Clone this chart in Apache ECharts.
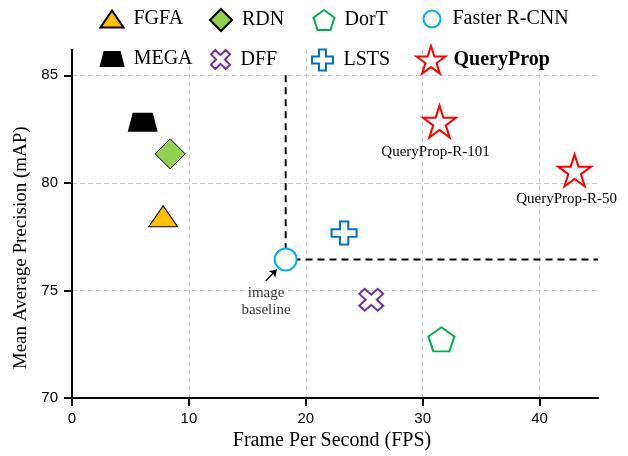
<!DOCTYPE html>
<html>
<head>
<meta charset="utf-8">
<script src="https://cdn.jsdelivr.net/npm/echarts@6/dist/echarts.min.js"></script>
<style>html,body{margin:0;padding:0;background:#fff}#c{width:628px;height:456px}</style>
</head>
<body>
<div id="c"></div>
<script>
// ---- data ----
const fgfa = [[7.8, 78.45]];
const rdn = [[8.4, 81.35]];
const dort = [[31.6, 72.73]];
const fasterRcnn = [[18.28, 76.44]];
const mega = [[6.05, 82.82]];
const dff = [[25.6, 74.57]];
const lsts = [[23.28, 77.67]];
const queryProp = [[31.44, 82.85, 'QueryProp-R-101'], [43.0, 80.58, 'QueryProp-R-50']];
const xTicks = [0, 10, 20, 30, 40];
const yTicks = [70, 75, 80, 85];
const xGrid = [10, 20, 30, 40];
const yGrid = [75, 80, 85];
const xRange = [0, 45];
const yRange = [70, 86.2];
const baselineTop = 85;
const annotationText = ['image', 'baseline'];
const annotationPos = [16.6, 74.5];
const arrowTail = [16.57, 75.44];
const arrowHead = [17.52, 75.98];

// ---- styles ----
const SERIF = '"Liberation Serif", "Times New Roman", serif';
const SANS = '"Liberation Sans", Arial, sans-serif';
const P = {
  trapezoid: 'path://M5,0 L25,0 L30,19 L0,19 Z',
  pentagon: 'path://M50,0 L97.55,34.55 L79.39,90.45 L20.61,90.45 L2.45,34.55 Z',
  plus: 'path://M1,0 L2,0 L2,1 L3,1 L3,2 L2,2 L2,3 L1,3 L1,2 L0,2 L0,1 L1,1 Z',
  cross: 'path://M0,2.3 L2.3,0 L5,2.7 L7.7,0 L10,2.3 L7.3,5 L10,7.7 L7.7,10 L5,7.3 L2.3,10 L0,7.7 L2.7,5 Z',
  star: 'path://M50,0 L61.23,34.55 L97.55,34.55 L68.17,55.9 L79.39,90.45 L50,69.1 L20.61,90.45 L31.83,55.9 L2.45,34.55 L38.77,34.55 Z'
};

function scatter(name, data, symbol, size, style, extra) {
  return Object.assign({
    name: name, type: 'scatter', data: data, symbol: symbol, symbolSize: size,
    itemStyle: Object.assign({opacity: 1}, style), z: 5, emphasis: {disabled: true}, silent: true
  }, extra || {});
}

const series = [
  {
    name: 'guide', type: 'line', symbol: 'none', z: 2, silent: true,
    data: [[fasterRcnn[0][0], baselineTop], fasterRcnn[0], [xRange[1], fasterRcnn[0][1]]],
    lineStyle: {color: '#000', width: 2, type: [7, 5]},
    markLine: {
      silent: true, symbol: ['none', 'arrow'], symbolSize: 7, animation: false,
      lineStyle: {color: '#000', width: 1.3, type: 'solid'}, label: {show: false},
      data: [[{coord: arrowTail}, {coord: arrowHead}]]
    }
  },
  {
    name: 'note', type: 'scatter', symbolSize: 0, silent: true, z: 6,
    data: [annotationPos],
    label: {show: true, position: 'inside', formatter: annotationText.join('\n'),
      fontFamily: SERIF, fontSize: 15, lineHeight: 17, color: '#000'}
  },
  scatter('FGFA', fgfa, 'triangle', [29, 21], {color: '#FFC000', borderColor: '#000', borderWidth: 1}),
  scatter('RDN', rdn, 'diamond', [30, 30], {color: '#92D050', borderColor: '#000', borderWidth: 1}),
  scatter('DorT', dort, P.pentagon, [26, 24], {color: '#fff', borderColor: '#00B050', borderWidth: 2}),
  scatter('Faster R-CNN', fasterRcnn, 'circle', 22, {color: '#fff', borderColor: '#00B0F0', borderWidth: 2}),
  scatter('MEGA', mega, P.trapezoid, [30, 19], {color: '#000'}),
  scatter('DFF', dff, P.cross, [24, 22], {color: '#fff', borderColor: '#7030A0', borderWidth: 2}),
  scatter('LSTS', lsts, P.plus, [25, 23], {color: '#fff', borderColor: '#0070C0', borderWidth: 2}),
  scatter('QueryProp', queryProp.map(function (d, i) {
    return {value: [d[0], d[1]], name: d[2],
      label: {offset: i === 0 ? [-4, 4] : [-8, 2]}};
  }), P.star, [33, 32], {color: '#fff', borderColor: '#FF0000', borderWidth: 2}, {
    label: {show: true, position: 'bottom', distance: 2, formatter: '{b}',
      fontFamily: SERIF, fontSize: 15, color: '#000'}
  })
];

// legend layout: [name, iconCenterX, iconCenterY, iconW, iconH, textGap, bold]
const legendLayout = [
  ['FGFA', 111, 19, 23, 17, 5],
  ['RDN', 220, 19, 22, 22, 5],
  ['DorT', 323, 19, 21, 20, 5],
  ['Faster R-CNN', 431, 19, 17, 17, 7],
  ['MEGA', 113, 59, 27, 16, 3],
  ['DFF', 220, 59, 20, 19, 5],
  ['LSTS', 322, 59, 22, 21, 5],
  ['QueryProp', 430, 59, 29, 28, 3, true]
];
const LFONT = 20;
const legends = legendLayout.map(function (l) {
  const h = Math.max(l[4], LFONT);
  return {
    left: l[1] - l[3] / 2, top: l[2] - h / 2, padding: 0,
    itemWidth: l[3], itemHeight: l[4], selectedMode: false, data: [l[0]],
    itemStyle: {opacity: 1},
    textStyle: {fontFamily: SERIF, fontSize: LFONT, color: '#000',
      fontWeight: l[6] ? 'bold' : 'normal', padding: [0, 0, 0, l[5]]}
  };
});

const gridLine = {show: true, lineStyle: {color: '#cfcfcf', width: 1, type: [5, 3]}};
const option = {
  animation: false,
  backgroundColor: '#fff',
  legend: legends,
  grid: {left: 72, right: 30, top: 49.5, bottom: 55.5, containLabel: false},
  xAxis: {
    type: 'value', min: xRange[0], max: xRange[1], interval: 10,
    name: 'Frame Per Second (FPS)', nameLocation: 'middle', nameGap: 30,
    nameTextStyle: {fontFamily: SERIF, fontSize: 20, color: '#000', padding: [0, 6, 0, 0]},
    axisLine: {onZero: false, lineStyle: {color: '#000', width: 2}},
    axisTick: {show: true, length: 8, lineStyle: {color: '#000', width: 2}, customValues: xTicks},
    axisLabel: {fontFamily: SANS, fontSize: 15, color: '#000', margin: 13, customValues: xTicks},
    splitLine: Object.assign({customValues: xGrid}, gridLine)
  },
  yAxis: {
    type: 'value', min: yRange[0], max: yRange[1], interval: 5,
    name: 'Mean Average Precision (mAP)', nameLocation: 'middle', nameGap: 29,
    nameTextStyle: {fontFamily: SERIF, fontSize: 19, color: '#000', padding: [0, 48, 0, 0]},
    axisLine: {show: true, onZero: false, lineStyle: {color: '#000', width: 2}},
    axisTick: {show: true, length: 8, lineStyle: {color: '#000', width: 2}, customValues: yTicks},
    axisLabel: {fontFamily: SANS, fontSize: 15, color: '#000', margin: 14, customValues: yTicks},
    splitLine: Object.assign({customValues: yGrid}, gridLine)
  },
  series: series
};
const chart = echarts.init(document.getElementById('c'), null, {renderer: 'canvas'});
chart.setOption(option);
</script>
</body>
</html>
